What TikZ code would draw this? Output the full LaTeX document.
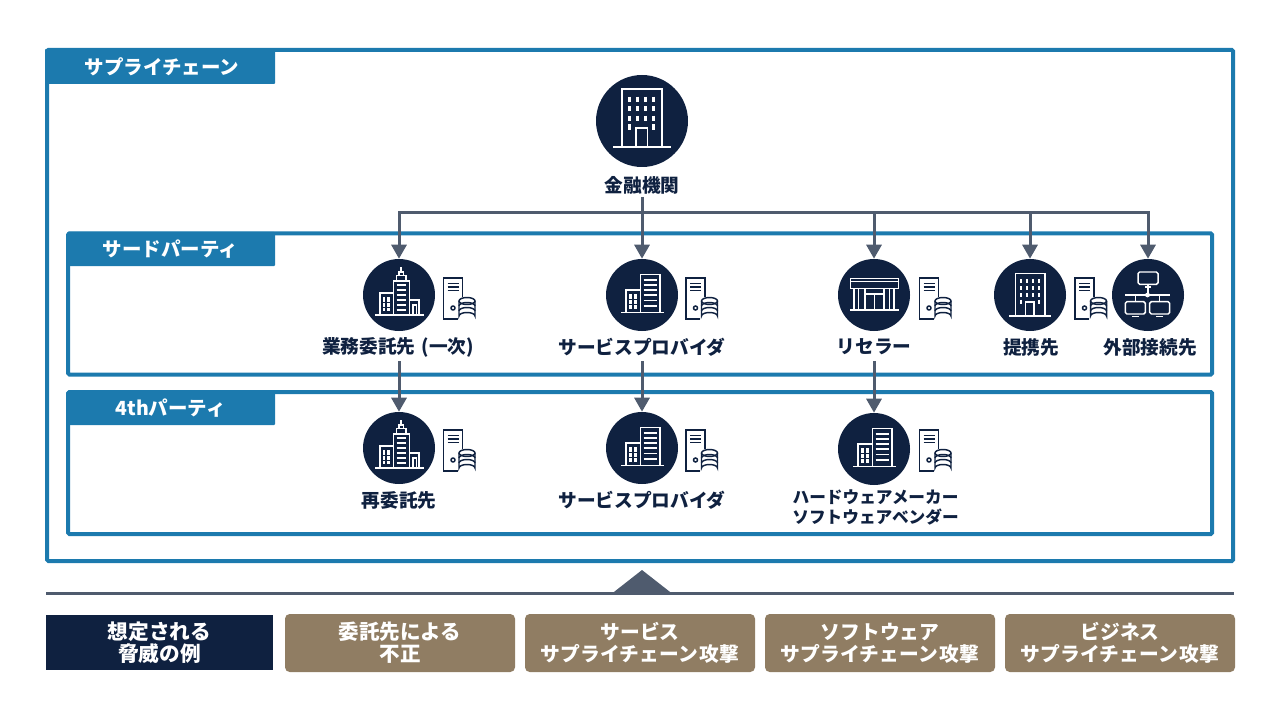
\documentclass[tikz,border=0pt]{standalone}
\usepackage{fontspec}
\setmainfont{Noto Sans CJK JP}
\usetikzlibrary{arrows.meta}
\definecolor{navy}{HTML}{0F2140}
\definecolor{frameblue}{HTML}{1C7AAE}
\definecolor{connector}{HTML}{4F5B6E}
\definecolor{tan}{HTML}{907D63}
\def\winw{1.5pt}
\tikzset{
 framebox/.style={draw=frameblue,line width=3pt,rounded corners=1pt},
 tabbox/.style={fill=frameblue,rounded corners=.7pt},
 tabtext/.style={text=white,font=\bfseries\fontsize{14.6}{16}\selectfont,inner sep=0pt},
 iconcircle/.style={circle,fill=navy,inner sep=0pt,minimum size=54pt},
 lbl/.style={text=navy,font=\bfseries\fontsize{14}{15}\selectfont,align=center,inner sep=0pt},
 conn/.style={draw=connector,line width=2.25pt},
 arr/.style={conn,-{Triangle[width=11.25pt,length=10.5pt]}},
 threat/.style={fill=tan,rounded corners=3.5pt,text=white,font=\bfseries\fontsize{14.8}{16.5}\selectfont,align=center,inner sep=0pt,minimum width=172.5pt,minimum height=43.5pt},
 wl/.style={draw=white,line width=1.1pt},
 nl/.style={draw=navy,line width=1.1pt},
 server/.pic={
  \draw[nl] (19,20) -- (19,0) -- (0,0) -- (0,41) -- (14,41);
  \draw[nl] (4,5.5) -- (15,5.5) (4,9) -- (15,9) (4,12.5) -- (15,12.5);
  \draw[nl] (9.5,30) circle (2);
  \fill[white] (15.5,19) rectangle (32,42);
  \draw[nl] (15.5,23) -- (15.5,38) arc[start angle=180,end angle=360,x radius=8,y radius=3.5] -- (31.5,23);
  \draw[nl] (23.5,23) ellipse[x radius=8,y radius=3.5];
  \draw[nl] (15.5,28) arc[start angle=180,end angle=360,x radius=8,y radius=3.5];
  \draw[nl] (15.5,33) arc[start angle=180,end angle=360,x radius=8,y radius=3.5];
 },
 office/.pic={
  \draw[wl] (-14.5,21) -- (-14.5,-21.7) -- (15,-21.7) -- (15,21);
  \draw[wl] (-21,21) -- (21,21);
  \draw[wl] (-4.5,21) -- (-4.5,7) -- (4,7) -- (4,21);
  \foreach \x in {-9,-3.2,2.7,8.5}\foreach \y in {-14,-7,0}
   \draw[white,line width=\winw] (\x,\y-2) -- (\x,\y+2);
  \foreach \x in {-9,8.5}
   \draw[white,line width=\winw] (\x,4.5) -- (\x,8.5);
 },
 tower/.pic={
  \draw[wl] (-5.7,20) -- (-5.7,-14) -- (10.3,-14) -- (10.3,20);
  \draw[wl] (-2.3,-14) -- (-2.3,-19.5) -- (7,-19.5) -- (7,-14);
  \draw[wl] (0,-19.5) -- (0,-23) -- (4.5,-23) -- (4.5,-19.5);
  \draw[wl] (2.2,-23) -- (2.2,-28);
  \foreach \y in {-10,-5,0,5,10,15}\draw[wl] (-2.3,\y) -- (7,\y);
  \draw[wl] (-5.7,-2) -- (-19,-2) -- (-19,20);
  \draw[wl] (10.3,5) -- (20,5) -- (20,20);
  \draw[wl] (-24,20) -- (25,20);
  \foreach \x in {-15,-10.5}\draw[white,line width=1.9pt] (\x,2) -- (\x,16);
  \draw[navy,line width=.7pt] (-17,7) -- (-8,7) (-17,12) -- (-8,12);
  \draw[wl] (14,20) -- (14,10) -- (17.5,10) -- (17.5,20);
 },
 twobldg/.pic={
  \draw[wl] (-1.7,17.7) -- (-1.7,-20.7) -- (18,-20.7) -- (18,17.7);
  \foreach \y in {-15,-10,-5,0,5.5,11}\draw[wl] (1.7,\y) -- (14.7,\y);
  \draw[wl] (-1.7,-5) -- (-16,-5) -- (-16,17.7);
  \draw[wl] (-21,17.7) -- (22,17.7);
  \foreach \x in {-11.3,-6.5}\draw[white,line width=1.9pt] (\x,-1) -- (\x,14);
  \draw[navy,line width=.7pt] (-13.5,4) -- (-4.5,4) (-13.5,9) -- (-4.5,9);
 },
 store/.pic={
  \draw[wl] (-23.3,-16.7) rectangle (24.3,-6.7);
  \draw[wl] (-23.3,-13.5) -- (24.3,-13.5);
  \draw[wl] (-20,-6.7) -- (-20,15) (20,-6.7) -- (20,15);
  \draw[wl] (-15.5,-6.7) -- (-15.5,15) (15.5,-6.7) -- (15.5,15);
  \draw[wl] (-9,15) -- (-9,-1) -- (10,-1) -- (10,15);
  \draw[wl] (-9,-6.7) -- (-9,-1) (10,-6.7) -- (10,-1);
  \draw[wl] (.5,-1) -- (.5,15);
  \draw[wl] (-24,15) -- (25,15);
 },
 network/.pic={
  \draw[wl,rounded corners=1.2pt] (-10,-23) rectangle (10,-10.7);
  \draw[wl] (-3,-8) -- (3,-8) (0,-10.7) -- (0,0);
  \draw[wl] (-22.7,0) -- (21.7,0);
  \fill[white] (-.5,0) circle (2.4);
  \draw[wl] (-12.7,0) -- (-12.7,6.7) (11.3,0) -- (11.3,6.7);
  \draw[wl,rounded corners=1.2pt] (-22.7,6.7) rectangle (-2.7,19);
  \draw[wl,rounded corners=1.2pt] (1.7,6.7) rectangle (21.7,19);
  \draw[wl] (-16,21.5) -- (-9.5,21.5) (8,21.5) -- (14.5,21.5);
 },
}
\begin{document}
\begin{tikzpicture}[x=0.75pt,y=-0.75pt]
\useasboundingbox (0,0) rectangle (1280,720);
% frames
\draw[framebox] (47,50) rectangle (1233,561);
\fill[tabbox] (45,49) rectangle (275,84);
\node[tabtext] (tab1) at (162,67) {サプライチェーン};
\draw[framebox] (68,233.5) rectangle (1212,374.5);
\fill[tabbox] (67,232) rectangle (275,266);
\node[tabtext] (tab2) at (170.5,249) {サードパーティ};
\draw[framebox] (68,392) rectangle (1212,534);
\fill[tabbox] (67,391) rectangle (275,425);
\node[tabtext] (tab3) at (170.5,408) {4thパーティ};
% icon circles
\node[iconcircle,minimum size=69pt] (bank) at (642,121) {};
\node[iconcircle] (c1) at (399,295) {};
\node[iconcircle] (c2) at (642,295) {};
\node[iconcircle] (c3) at (874,295) {};
\node[iconcircle] (c4) at (1030,295) {};
\node[iconcircle] (c5) at (1148,295) {};
\node[iconcircle] (d1) at (399,448) {};
\node[iconcircle] (d2) at (642,448) {};
\node[iconcircle] (d3) at (874,449) {};
{\def\winw{2pt}\pic[scale=1.36,yshift=1.5pt,wl/.append style={line width=1.4pt}] at (bank) {office};}
\pic at (c1) {tower};
\pic at (c2) {twobldg};
\pic at (c3) {store};
\pic at (c4) {office};
\pic at (c5) {network};
\pic at (d1) {tower};
\pic at (d2) {twobldg};
\pic at (d3) {twobldg};
\pic at (443.5,278) {server};
\pic at (686,278) {server};
\pic at (919.5,278) {server};
\pic at (1075,278) {server};
\pic at (443.5,430) {server};
\pic at (686,430) {server};
\pic at (919.5,430) {server};
% labels
\node[lbl] (lbank) at (642,185) {金融機関};
\node[lbl] (l1) at (398,347) {業務委託先\hspace{1.5pt} (一次)};
\node[lbl] (l2) at (642,347) {サービスプロバイダ};
\node[lbl] (l3) at (874,347) {リセラー};
\node[lbl] (l4) at (1031,347) {提携先};
\node[lbl] (l5) at (1150,347) {外部接続先};
\node[lbl] (m1) at (399,500) {再委託先};
\node[lbl] (m2) at (642,500) {サービスプロバイダ};
\node[lbl,font=\bfseries\fontsize{12.5}{15}\selectfont] (m3) at (875.5,507) {ハードウェアメーカー\\ソフトウェアベンダー};
% connectors
\coordinate (bus) at (642,213);
\draw[conn] (642,197) -- (bus);
\draw[arr] (bus) -| (c1.north);
\draw[arr] (bus) -- (c2.north);
\draw[arr] (bus) -| (c3.north);
\draw[arr] (bus) -| (c4.north);
\draw[arr] (bus) -| (c5.north);
\draw[arr] (399,361) -- (d1.north);
\draw[arr] (642,361) -- (d2.north);
\draw[arr] (874,361) -- (d3.north);
% bottom
\coordinate (ruleL) at (46,593);
\coordinate (ruleR) at (1234,593);
\draw[conn] (ruleL) -- (ruleR);
\fill[connector] (612,593.5) -- (642,570) -- (672,593.5) -- cycle;
\node[fill=navy,text=white,font=\bfseries\fontsize{15.5}{16.5}\selectfont,align=center,inner sep=0pt,minimum width=170.25pt,minimum height=41.25pt] (t0) at (159.5,642.5) {想定される\\脅威の例};
\node[threat,font=\bfseries\fontsize{15.4}{16.5}\selectfont] (t1) at (400,643) {委託先による\\不正};
\node[threat] (t2) at (640,643) {サービス\\サプライチェーン\hspace{1.5pt}攻撃};
\node[threat] (t3) at (880,643) {ソフトウェア\\サプライチェーン\hspace{1.5pt}攻撃};
\node[threat] (t4) at (1120,643) {ビジネス\\サプライチェーン\hspace{1.5pt}攻撃};
\end{tikzpicture}
\end{document}
